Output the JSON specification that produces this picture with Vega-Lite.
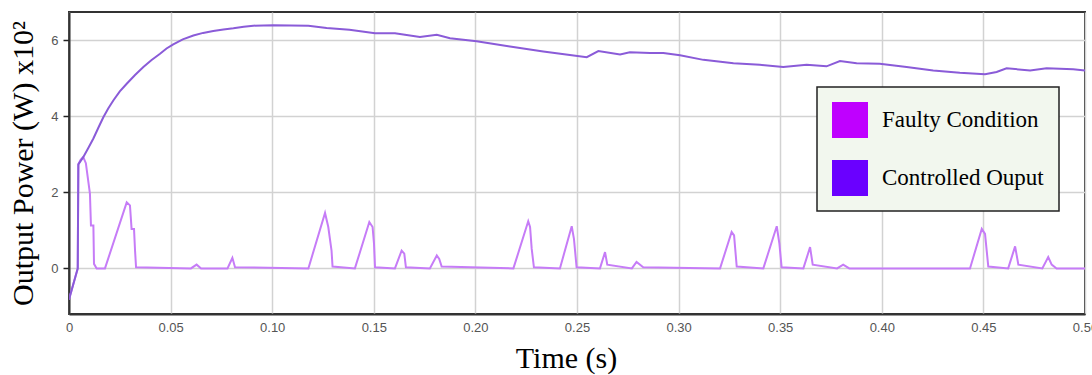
{
  "$schema": "https://vega.github.io/schema/vega-lite/v6.json",
  "width": 1016,
  "height": 302,
  "autosize": "none",
  "padding": {"left": 69, "top": 12, "right": 7, "bottom": 61},
  "background": "white",
  "config": {
    "view": {"stroke": "#333", "strokeWidth": 2},
    "axis": {
      "labelFont": "Liberation Sans",
      "labelFontSize": 13,
      "labelColor": "#555",
      "gridColor": "#d2d2d2",
      "gridWidth": 1.5,
      "domainColor": "#333",
      "domainWidth": 2,
      "titleFont": "Liberation Serif",
      "titleFontSize": 30,
      "titleFontWeight": "normal",
      "titleColor": "#000"
    }
  },
  "datasets": {
    "pts": [
      {"t": 0, "p": -0.82, "series": "Faulty Condition"},
      {"t": 0.0043, "p": 0, "series": "Faulty Condition"},
      {"t": 0.0046, "p": 2.74, "series": "Faulty Condition"},
      {"t": 0.0057, "p": 2.86, "series": "Faulty Condition"},
      {"t": 0.007, "p": 2.93, "series": "Faulty Condition"},
      {"t": 0.0083, "p": 2.77, "series": "Faulty Condition"},
      {"t": 0.009, "p": 2.49, "series": "Faulty Condition"},
      {"t": 0.0103, "p": 1.97, "series": "Faulty Condition"},
      {"t": 0.0108, "p": 1.13, "series": "Faulty Condition"},
      {"t": 0.012, "p": 1.13, "series": "Faulty Condition"},
      {"t": 0.0123, "p": 0.12, "series": "Faulty Condition"},
      {"t": 0.0136, "p": 0, "series": "Faulty Condition"},
      {"t": 0.0177, "p": 0, "series": "Faulty Condition"},
      {"t": 0.0284, "p": 1.74, "series": "Faulty Condition"},
      {"t": 0.03, "p": 1.66, "series": "Faulty Condition"},
      {"t": 0.0308, "p": 1.04, "series": "Faulty Condition"},
      {"t": 0.032, "p": 1.04, "series": "Faulty Condition"},
      {"t": 0.0325, "p": 0.47, "series": "Faulty Condition"},
      {"t": 0.033, "p": 0.03, "series": "Faulty Condition"},
      {"t": 0.06, "p": 0, "series": "Faulty Condition"},
      {"t": 0.0628, "p": 0.1, "series": "Faulty Condition"},
      {"t": 0.065, "p": 0, "series": "Faulty Condition"},
      {"t": 0.078, "p": 0, "series": "Faulty Condition"},
      {"t": 0.0804, "p": 0.28, "series": "Faulty Condition"},
      {"t": 0.0817, "p": 0.03, "series": "Faulty Condition"},
      {"t": 0.1178, "p": 0, "series": "Faulty Condition"},
      {"t": 0.126, "p": 1.46, "series": "Faulty Condition"},
      {"t": 0.1276, "p": 1.09, "series": "Faulty Condition"},
      {"t": 0.1292, "p": 0.47, "series": "Faulty Condition"},
      {"t": 0.1297, "p": 0.05, "series": "Faulty Condition"},
      {"t": 0.1407, "p": 0, "series": "Faulty Condition"},
      {"t": 0.1478, "p": 1.22, "series": "Faulty Condition"},
      {"t": 0.1494, "p": 1.09, "series": "Faulty Condition"},
      {"t": 0.1501, "p": 0.65, "series": "Faulty Condition"},
      {"t": 0.1506, "p": 0.03, "series": "Faulty Condition"},
      {"t": 0.1604, "p": 0, "series": "Faulty Condition"},
      {"t": 0.1637, "p": 0.47, "series": "Faulty Condition"},
      {"t": 0.165, "p": 0.39, "series": "Faulty Condition"},
      {"t": 0.1658, "p": 0.03, "series": "Faulty Condition"},
      {"t": 0.1776, "p": 0, "series": "Faulty Condition"},
      {"t": 0.181, "p": 0.34, "series": "Faulty Condition"},
      {"t": 0.1822, "p": 0.25, "series": "Faulty Condition"},
      {"t": 0.1834, "p": 0.05, "series": "Faulty Condition"},
      {"t": 0.2187, "p": 0, "series": "Faulty Condition"},
      {"t": 0.226, "p": 1.24, "series": "Faulty Condition"},
      {"t": 0.2269, "p": 1.09, "series": "Faulty Condition"},
      {"t": 0.2277, "p": 0.52, "series": "Faulty Condition"},
      {"t": 0.2288, "p": 0.03, "series": "Faulty Condition"},
      {"t": 0.2416, "p": 0, "series": "Faulty Condition"},
      {"t": 0.2474, "p": 1.11, "series": "Faulty Condition"},
      {"t": 0.2485, "p": 0.78, "series": "Faulty Condition"},
      {"t": 0.2498, "p": 0.03, "series": "Faulty Condition"},
      {"t": 0.2613, "p": 0, "series": "Faulty Condition"},
      {"t": 0.2638, "p": 0.43, "series": "Faulty Condition"},
      {"t": 0.2649, "p": 0.1, "series": "Faulty Condition"},
      {"t": 0.277, "p": 0, "series": "Faulty Condition"},
      {"t": 0.2793, "p": 0.17, "series": "Faulty Condition"},
      {"t": 0.2826, "p": 0.03, "series": "Faulty Condition"},
      {"t": 0.3204, "p": 0, "series": "Faulty Condition"},
      {"t": 0.3261, "p": 0.96, "series": "Faulty Condition"},
      {"t": 0.3273, "p": 0.87, "series": "Faulty Condition"},
      {"t": 0.3286, "p": 0.05, "series": "Faulty Condition"},
      {"t": 0.3417, "p": 0, "series": "Faulty Condition"},
      {"t": 0.3483, "p": 1.11, "series": "Faulty Condition"},
      {"t": 0.3496, "p": 0.65, "series": "Faulty Condition"},
      {"t": 0.3507, "p": 0.03, "series": "Faulty Condition"},
      {"t": 0.3614, "p": 0, "series": "Faulty Condition"},
      {"t": 0.3647, "p": 0.56, "series": "Faulty Condition"},
      {"t": 0.366, "p": 0.1, "series": "Faulty Condition"},
      {"t": 0.378, "p": 0, "series": "Faulty Condition"},
      {"t": 0.381, "p": 0.1, "series": "Faulty Condition"},
      {"t": 0.384, "p": 0, "series": "Faulty Condition"},
      {"t": 0.4434, "p": 0, "series": "Faulty Condition"},
      {"t": 0.4492, "p": 1.04, "series": "Faulty Condition"},
      {"t": 0.4508, "p": 0.91, "series": "Faulty Condition"},
      {"t": 0.4524, "p": 0.05, "series": "Faulty Condition"},
      {"t": 0.4622, "p": 0, "series": "Faulty Condition"},
      {"t": 0.4656, "p": 0.58, "series": "Faulty Condition"},
      {"t": 0.4672, "p": 0.1, "series": "Faulty Condition"},
      {"t": 0.479, "p": 0, "series": "Faulty Condition"},
      {"t": 0.4819, "p": 0.3, "series": "Faulty Condition"},
      {"t": 0.4836, "p": 0.1, "series": "Faulty Condition"},
      {"t": 0.486, "p": 0, "series": "Faulty Condition"},
      {"t": 0.5, "p": 0, "series": "Faulty Condition"},
      {"t": 0, "p": -0.82, "series": "Controlled Ouput"},
      {"t": 0.0043, "p": 0, "series": "Controlled Ouput"},
      {"t": 0.0046, "p": 2.74, "series": "Controlled Ouput"},
      {"t": 0.007, "p": 2.93, "series": "Controlled Ouput"},
      {"t": 0.0095, "p": 3.17, "series": "Controlled Ouput"},
      {"t": 0.012, "p": 3.42, "series": "Controlled Ouput"},
      {"t": 0.0145, "p": 3.71, "series": "Controlled Ouput"},
      {"t": 0.0169, "p": 3.98, "series": "Controlled Ouput"},
      {"t": 0.0193, "p": 4.21, "series": "Controlled Ouput"},
      {"t": 0.0218, "p": 4.42, "series": "Controlled Ouput"},
      {"t": 0.025, "p": 4.66, "series": "Controlled Ouput"},
      {"t": 0.0284, "p": 4.86, "series": "Controlled Ouput"},
      {"t": 0.0325, "p": 5.09, "series": "Controlled Ouput"},
      {"t": 0.0366, "p": 5.3, "series": "Controlled Ouput"},
      {"t": 0.0405, "p": 5.48, "series": "Controlled Ouput"},
      {"t": 0.0448, "p": 5.65, "series": "Controlled Ouput"},
      {"t": 0.048, "p": 5.79, "series": "Controlled Ouput"},
      {"t": 0.0513, "p": 5.9, "series": "Controlled Ouput"},
      {"t": 0.056, "p": 6.03, "series": "Controlled Ouput"},
      {"t": 0.0612, "p": 6.13, "series": "Controlled Ouput"},
      {"t": 0.066, "p": 6.2, "series": "Controlled Ouput"},
      {"t": 0.071, "p": 6.25, "series": "Controlled Ouput"},
      {"t": 0.076, "p": 6.29, "series": "Controlled Ouput"},
      {"t": 0.0809, "p": 6.32, "series": "Controlled Ouput"},
      {"t": 0.086, "p": 6.36, "series": "Controlled Ouput"},
      {"t": 0.0907, "p": 6.39, "series": "Controlled Ouput"},
      {"t": 0.1005, "p": 6.4, "series": "Controlled Ouput"},
      {"t": 0.1178, "p": 6.39, "series": "Controlled Ouput"},
      {"t": 0.1268, "p": 6.33, "series": "Controlled Ouput"},
      {"t": 0.138, "p": 6.28, "series": "Controlled Ouput"},
      {"t": 0.1506, "p": 6.19, "series": "Controlled Ouput"},
      {"t": 0.1604, "p": 6.19, "series": "Controlled Ouput"},
      {"t": 0.1727, "p": 6.09, "series": "Controlled Ouput"},
      {"t": 0.181, "p": 6.15, "series": "Controlled Ouput"},
      {"t": 0.1875, "p": 6.06, "series": "Controlled Ouput"},
      {"t": 0.2006, "p": 5.98, "series": "Controlled Ouput"},
      {"t": 0.217, "p": 5.84, "series": "Controlled Ouput"},
      {"t": 0.2334, "p": 5.71, "series": "Controlled Ouput"},
      {"t": 0.2465, "p": 5.62, "series": "Controlled Ouput"},
      {"t": 0.2548, "p": 5.56, "series": "Controlled Ouput"},
      {"t": 0.2605, "p": 5.72, "series": "Controlled Ouput"},
      {"t": 0.2712, "p": 5.63, "series": "Controlled Ouput"},
      {"t": 0.276, "p": 5.69, "series": "Controlled Ouput"},
      {"t": 0.286, "p": 5.67, "series": "Controlled Ouput"},
      {"t": 0.2925, "p": 5.67, "series": "Controlled Ouput"},
      {"t": 0.3007, "p": 5.61, "series": "Controlled Ouput"},
      {"t": 0.3122, "p": 5.49, "series": "Controlled Ouput"},
      {"t": 0.327, "p": 5.4, "series": "Controlled Ouput"},
      {"t": 0.34, "p": 5.36, "series": "Controlled Ouput"},
      {"t": 0.3515, "p": 5.3, "series": "Controlled Ouput"},
      {"t": 0.363, "p": 5.36, "series": "Controlled Ouput"},
      {"t": 0.3728, "p": 5.32, "series": "Controlled Ouput"},
      {"t": 0.3794, "p": 5.46, "series": "Controlled Ouput"},
      {"t": 0.3876, "p": 5.4, "series": "Controlled Ouput"},
      {"t": 0.399, "p": 5.39, "series": "Controlled Ouput"},
      {"t": 0.4122, "p": 5.3, "series": "Controlled Ouput"},
      {"t": 0.4253, "p": 5.21, "series": "Controlled Ouput"},
      {"t": 0.4384, "p": 5.15, "series": "Controlled Ouput"},
      {"t": 0.4508, "p": 5.11, "series": "Controlled Ouput"},
      {"t": 0.4565, "p": 5.17, "series": "Controlled Ouput"},
      {"t": 0.4614, "p": 5.27, "series": "Controlled Ouput"},
      {"t": 0.473, "p": 5.21, "series": "Controlled Ouput"},
      {"t": 0.4811, "p": 5.27, "series": "Controlled Ouput"},
      {"t": 0.4942, "p": 5.24, "series": "Controlled Ouput"},
      {"t": 0.5, "p": 5.21, "series": "Controlled Ouput"}
    ]
  },
  "data": {"name": "pts"},
  "mark": {"type": "line", "strokeWidth": 2, "clip": true},
  "encoding": {
    "x": {
      "field": "t",
      "type": "quantitative",
      "scale": {"domain": [0, 0.5], "nice": false, "zero": false},
      "axis": {
        "title": "Time (s)",
        "values": [0, 0.05, 0.1, 0.15, 0.2, 0.25, 0.3, 0.35, 0.4, 0.45, 0.5],
        "labelExpr": "datum.value === 0 ? '0' : format(datum.value, '.2f')",
        "ticks": false,
        "labelPadding": 7,
        "labelFlush": false,
        "labelOverlap": false,
        "titleX": 497,
        "titleY": 53,
        "titleBaseline": "alphabetic",
        "titleAnchor": null
      }
    },
    "y": {
      "field": "p",
      "type": "quantitative",
      "scale": {"domain": [-1.2, 6.75], "nice": false, "zero": false},
      "axis": {
        "title": "Output Power (W) x10²",
        "values": [0, 2, 4, 6],
        "format": "d",
        "ticks": true,
        "tickSize": 6,
        "tickColor": "#222",
        "tickWidth": 1.5,
        "labelPadding": 5,
        "titleX": -37,
        "titleY": 151,
        "titleAngle": -90,
        "titleBaseline": "alphabetic",
        "titleAlign": "center"
      }
    },
    "color": {
      "field": "series",
      "type": "nominal",
      "scale": {"domain": ["Faulty Condition", "Controlled Ouput"], "range": ["#c67cf7", "#8a5bd8"]},
      "legend": {
        "title": null,
        "orient": "none",
        "legendX": 748,
        "legendY": 75,
        "direction": "vertical",
        "fillColor": "#f2f7ee",
        "strokeColor": "#222",
        "padding": 15,
        "symbolType": "square",
        "symbolSize": 1296,
        "symbolStrokeWidth": 0,
        "symbolOpacity": 1,
        "labelFont": "Liberation Serif",
        "labelFontSize": 23,
        "labelColor": "#000",
        "labelOffset": 14,
        "rowPadding": 22,
        "labelLimit": 400,
        "encode": {
          "symbols": {"update": {"fill": [{"test": "datum.value === 'Faulty Condition'", "value": "#bf00ff"}, {"value": "#6a00ff"}], "stroke": {"value": "transparent"}}},
          "legend": {"update": {"strokeWidth": {"value": 1.5}}}
        }
      }
    },
    "order": {"field": "t", "type": "quantitative"}
  }
}
